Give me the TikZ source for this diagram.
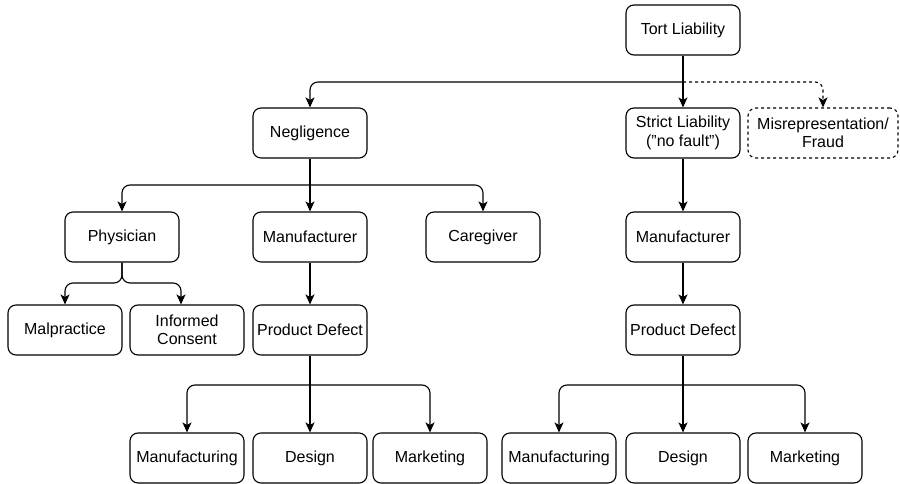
\documentclass[tikz,border=0pt]{standalone}
\usepackage{fontspec}
\setmainfont{Liberation Sans}
\usetikzlibrary{arrows.meta}

\begin{document}
\begin{tikzpicture}[x=1pt,y=-1pt,
		box/.style={draw, line width=1.1pt, rounded corners=8pt, minimum width=114pt, minimum height=50pt, align=center, inner sep=1pt, font=\fontsize{16}{18.5}\selectfont},
		conn/.style={line width=1.1pt, rounded corners=8pt, -{Stealth[length=10pt,width=9pt,inset=2.5pt]}}]
				\useasboundingbox (0,0) rectangle (900,484);
				\pgfmathsetmacro{\ya}{82}
				\pgfmathsetmacro{\yb}{185}
				\pgfmathsetmacro{\yc}{283}
				\pgfmathsetmacro{\yd}{385}
				% top
				\node[box] (tort) at (683,30) {Tort Liability};
				\node[box] (negl) at (310,133) {Negligence};
				\node[box] (strict) at (683,133) {Strict Liability\\(\char34 no fault\char34)};
				\node[box, dashed, minimum width=150pt] (misr) at (823,133) {Misrepresentation/\\Fraud};
				% negligence side
				\node[box] (phys) at (122,237) {Physician};
				\node[box] (nmanu) at (310,237) {Manufacturer};
				\node[box] (care) at (483,237) {Caregiver};
				\node[box] (malp) at (65,330) {Malpractice};
				\node[box] (cons) at (187,330) {Informed\\Consent};
				\node[box] (npd) at (310,330) {Product Defect};
				\node[box] (nmf) at (187,458) {Manufacturing};
				\node[box] (ndes) at (310,458) {Design};
				\node[box] (nmkt) at (430,458) {Marketing};
				% strict side
				\node[box] (smanu) at (683,237) {Manufacturer};
				\node[box] (spd) at (683,330) {Product Defect};
				\node[box] (smf) at (559,458) {Manufacturing};
				\node[box] (sdes) at (683,458) {Design};
				\node[box] (smkt) at (805,458) {Marketing};

				\coordinate (ta) at (683,\ya);
				\coordinate (na) at (310,\yb);
				\coordinate (pa) at (122,\yc);
				\coordinate (da) at (310,\yd);
				\coordinate (sa) at (683,\yd);

				\draw[conn] (tort) -- (strict);
				\draw[conn] (ta) -| (negl.north);
				\draw[conn, dashed] (ta) -| (misr.north);

				\draw[conn] (negl) -- (nmanu);
				\draw[conn] (na) -| (phys.north);
				\draw[conn] (na) -| (care.north);
				\draw[conn] (phys.south) -- (pa) -| (malp.north);
				\draw[conn] (phys.south) -- (pa) -| ([xshift=-6pt]cons.north);
				\draw[conn] (nmanu) -- (npd);
				\draw[conn] (npd) -- (ndes);
				\draw[conn] (da) -| (nmf.north);
				\draw[conn] (da) -| (nmkt.north);

				\draw[conn] (strict) -- (smanu);
				\draw[conn] (smanu) -- (spd);
				\draw[conn] (spd) -- (sdes);
				\draw[conn] (sa) -| (smf.north);
				\draw[conn] (sa) -| (smkt.north);
			\end{tikzpicture}
\end{document}
